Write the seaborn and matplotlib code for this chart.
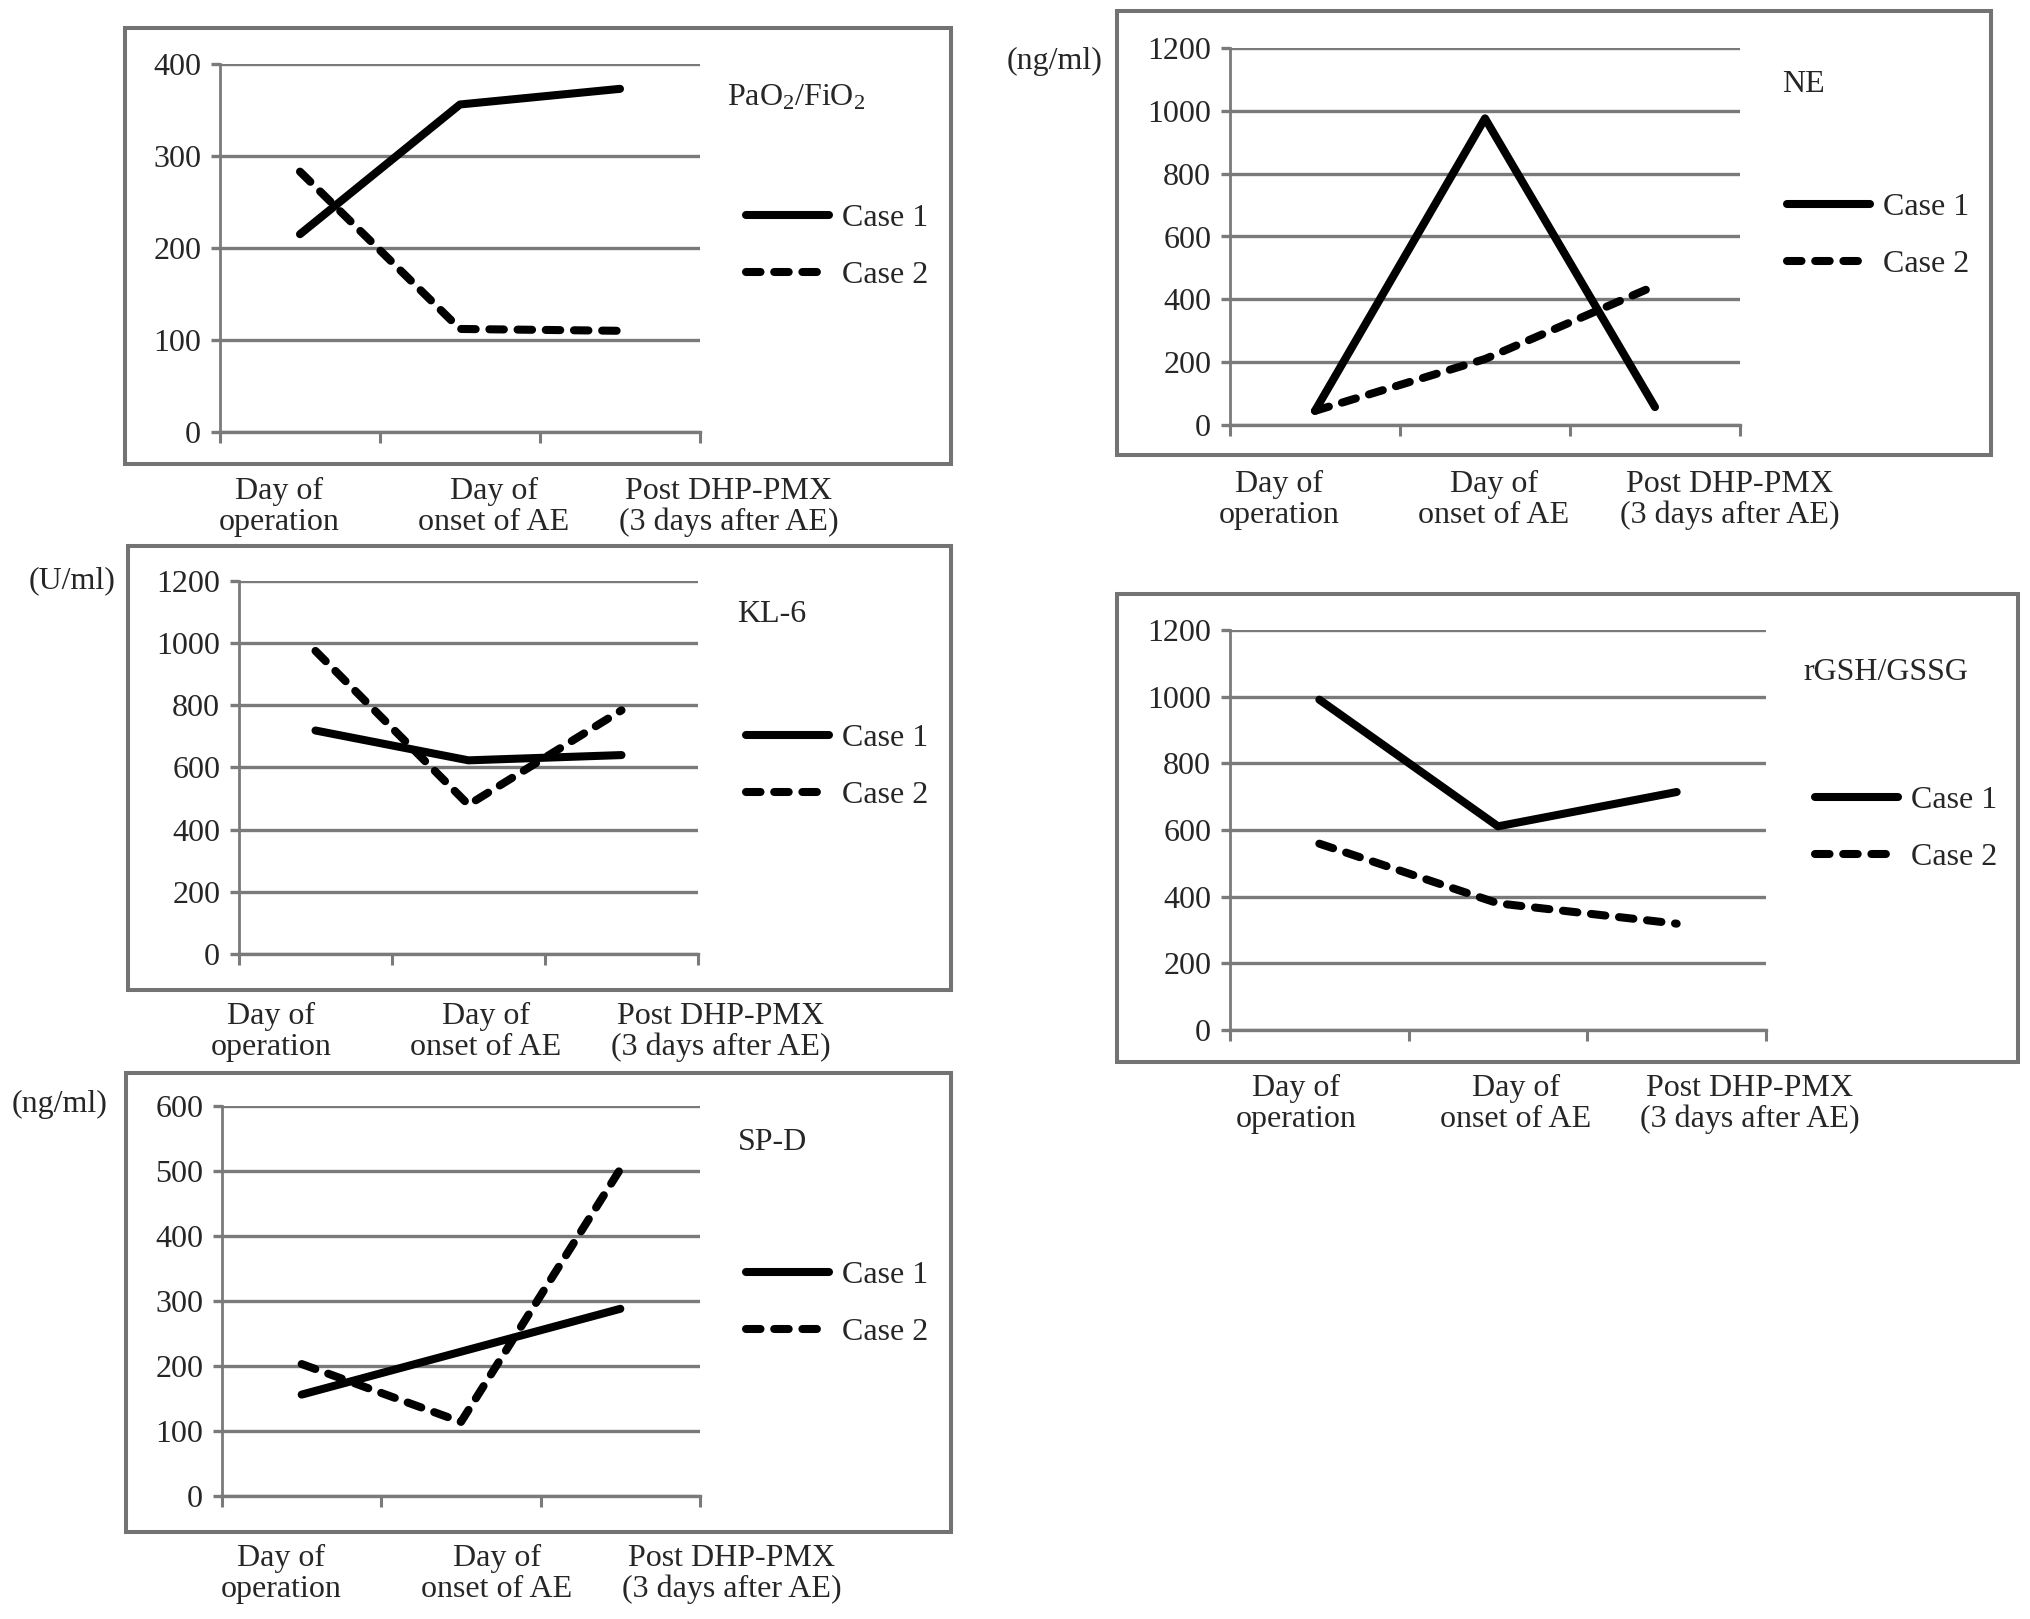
import numpy as np
import pandas as pd
import seaborn as sns
import matplotlib.pyplot as plt
from matplotlib.patches import Rectangle

stages = ["Day of\noperation", "Day of\nonset of AE", "Post DHP-PMX\n(3 days after AE)"]
cases = ["Case 1", "Case 2"]

pao2_case1 = [215, 356, 373]
pao2_case2 = [283, 112, 110]
kl6_case1 = [719, 623, 640]
kl6_case2 = [975, 480, 784]
spd_case1 = [156, 222, 288]
spd_case2 = [203, 114, 503]
ne_case1 = [45, 976, 57]
ne_case2 = [45, 210, 443]
gsh_case1 = [991, 611, 714]
gsh_case2 = [559, 380, 319]

W, H = 2031, 1619
FS = 23
LW = 5.8
GRID = "#7a7a7a"
FRAME = "#737373"

sns.set_style("white")
plt.rcParams['font.family'] = ['Liberation Serif', 'DejaVu Serif']
plt.rcParams['mathtext.fontset'] = 'custom'
plt.rcParams['mathtext.rm'] = 'Liberation Serif'
plt.rcParams['mathtext.it'] = 'Liberation Serif:italic'

fig = plt.figure(figsize=(W / 100, H / 100), dpi=100)


def draw_panel(frame, box, ymax, step, c1, c2, title, title_pos, leg_pos,
               lab_x, lab_y, unit=None, unit_pos=None):
    # grey frame round the whole panel
    fl, ft, fr, fb = frame
    fig.add_artist(Rectangle((fl / W, 1 - fb / H), (fr - fl) / W, (fb - ft) / H,
                             transform=fig.transFigure, fill=False, ec=FRAME, lw=2.9))
    l, r, t, b = box
    ax = fig.add_axes([l / W, 1 - b / H, (r - l) / W, (b - t) / H])
    ax.patch.set_alpha(0)

    df = pd.DataFrame({
        "stage": np.tile(np.arange(3) + 0.5, 2),
        "value": list(c1) + list(c2),
        "case": [cases[0]] * 3 + [cases[1]] * 3,
    })
    sns.lineplot(data=df, x="stage", y="value", style="case",
                 dashes={"Case 1": "", "Case 2": (1.8, 1.7)}, color="black",
                 lw=LW, solid_capstyle="round", solid_joinstyle="round",
                 dash_capstyle="round", ax=ax)

    ax.set_xlim(0, 3)
    ax.set_ylim(0, ymax)
    ax.set_xticks([0, 1, 2, 3])
    ax.set_xticklabels([])
    ax.set_yticks(np.arange(0, ymax + 1, step))
    ax.grid(axis='y', color=GRID, lw=2.4)
    ax.set_axisbelow(True)
    ax.tick_params(axis='x', direction='out', length=8, width=2.2, color=GRID, bottom=True)
    ax.tick_params(axis='y', direction='out', length=6.5, width=2.4, color=GRID,
                   left=True, labelsize=FS, pad=7)
    for lab in ax.get_yticklabels():
        lab.set_fontfamily('Liberation Serif')
    for s in ['top', 'right']:
        ax.spines[s].set_visible(False)
    ax.spines['left'].set_color(GRID)
    ax.spines['left'].set_linewidth(2.0)
    ax.spines['bottom'].set_color(GRID)
    ax.spines['bottom'].set_linewidth(2.4)
    ax.set_xlabel('')
    ax.set_ylabel('')

    handles, labels = ax.get_legend_handles_labels()
    leg = ax.legend(handles, labels, loc='center left',
                    bbox_to_anchor=(leg_pos[0] / W, 1 - leg_pos[1] / H),
                    bbox_transform=fig.transFigure, frameon=False,
                    prop={'family': 'Liberation Serif', 'size': FS},
                    handlelength=2.6, handletextpad=0.4, labelspacing=0.85,
                    borderpad=0, borderaxespad=0)
    for h in leg.get_lines():
        h.set_linewidth(LW)
        h.set_solid_capstyle('round')
        h.set_dash_capstyle('round')

    fig.text(title_pos[0] / W, 1 - title_pos[1] / H, title, ha='left', va='center',
             fontsize=FS, fontfamily='Liberation Serif')
    if unit:
        fig.text(unit_pos[0] / W, 1 - unit_pos[1] / H, unit, ha='right', va='center',
                 fontsize=FS, fontfamily='Liberation Serif')
    for x, s in zip(lab_x, stages):
        fig.text(x / W, 1 - lab_y / H, s, ha='center', va='center',
                 multialignment='center', fontsize=FS, linespacing=1.1,
                 fontfamily='Liberation Serif')
    return ax


draw_panel((125, 28, 951, 464), (220, 700, 64, 432), 400, 100,
           pao2_case1, pao2_case2, "PaO$_2$/FiO$_2$", (727, 98), (746, 247),
           (279, 494, 729), 507)
draw_panel((128, 546, 951, 990), (239, 698, 581, 954), 1200, 200,
           kl6_case1, kl6_case2, "KL-6", (737, 614), (746, 767),
           (271, 486, 721), 1032, "(U/ml)", (115, 581))
draw_panel((126, 1073, 951, 1532), (222, 700, 1106, 1496), 600, 100,
           spd_case1, spd_case2, "SP-D", (738, 1142), (746, 1304),
           (281, 497, 732), 1574, "(ng/ml)", (108, 1104))
draw_panel((1117, 11, 1991, 455), (1230, 1740, 48, 425), 1200, 200,
           ne_case1, ne_case2, "NE", (1782, 85), (1787, 236),
           (1279, 1494, 1730), 500, "(ng/ml)", (1102, 61))
draw_panel((1117, 594, 2018, 1062), (1230, 1766, 630, 1030), 1200, 200,
           gsh_case1, gsh_case2, "rGSH/GSSG", (1803, 672), (1815, 829),
           (1296, 1516, 1750), 1104)

fig.savefig("out.png", dpi=100, facecolor="white")
